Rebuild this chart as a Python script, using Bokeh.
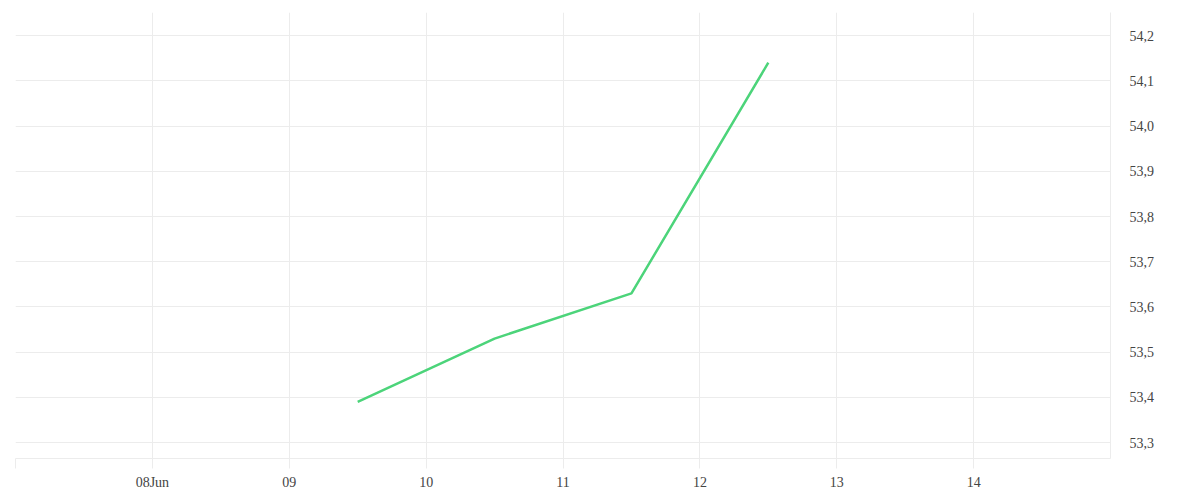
from datetime import datetime
from bokeh.plotting import figure
from bokeh.models import (FixedTicker, Range1d, CustomJSTickFormatter)
from bokeh.embed import file_html
from bokeh.resources import INLINE

# data
dates = [datetime(2020, 6, 9, 12), datetime(2020, 6, 10, 12),
         datetime(2020, 6, 11, 12), datetime(2020, 6, 12, 12)]
values = [53.39, 53.53, 53.63, 54.14]

tick_days = [datetime(2020, 6, d) for d in range(7, 15)]
tick_labels = ["", "08Jun", "09", "10", "11", "12", "13", "14"]
y_ticks = [53.3, 53.4, 53.5, 53.6, 53.7, 53.8, 53.9, 54.0, 54.1, 54.2]


def ms(d):
    return (d - datetime(1970, 1, 1)).total_seconds() * 1000.0


FONT = "Liberation Serif"
GRID = "#ececec"
TEXT = "#444444"

p = figure(width=1184, height=484, frame_width=1095, frame_height=446,
           x_axis_type="datetime", y_axis_location="right",
           output_backend="svg", toolbar_location=None,
           min_border_left=15, min_border_top=12, min_border_bottom=0,
           x_range=Range1d(ms(datetime(2020, 6, 7)), ms(datetime(2020, 6, 15))),
           y_range=Range1d(53.265, 54.251))
p.outline_line_color = None
p.background_fill_color = "white"
p.border_fill_color = "white"

p.line([ms(d) for d in dates], values, line_color="#4cd47a", line_width=2.5)

xa = p.xaxis[0]
xa.ticker = FixedTicker(ticks=[ms(d) for d in tick_days])
xa.major_label_overrides = {ms(d): lab for d, lab in zip(tick_days, tick_labels)}
xa.axis_line_color = GRID
xa.major_tick_line_color = GRID
xa.major_tick_in = 0
xa.major_tick_out = 10
xa.minor_tick_line_color = None
xa.major_label_standoff = 6
xa.major_label_text_font = FONT
xa.major_label_text_font_size = "14px"
xa.major_label_text_color = TEXT

ya = p.yaxis[0]
ya.ticker = FixedTicker(ticks=y_ticks)
ya.formatter = CustomJSTickFormatter(code="return tick.toFixed(1).replace('.', ',');")
ya.axis_line_color = GRID
ya.major_tick_line_color = None
ya.minor_tick_line_color = None
ya.major_label_standoff = 13
ya.major_label_text_font = FONT
ya.major_label_text_font_size = "14px"
ya.major_label_text_color = TEXT

p.xgrid.grid_line_color = GRID
p.ygrid.grid_line_color = GRID
p.xgrid.ticker = xa.ticker
p.ygrid.ticker = ya.ticker

open("out.html", "w").write(file_html(p, INLINE))
